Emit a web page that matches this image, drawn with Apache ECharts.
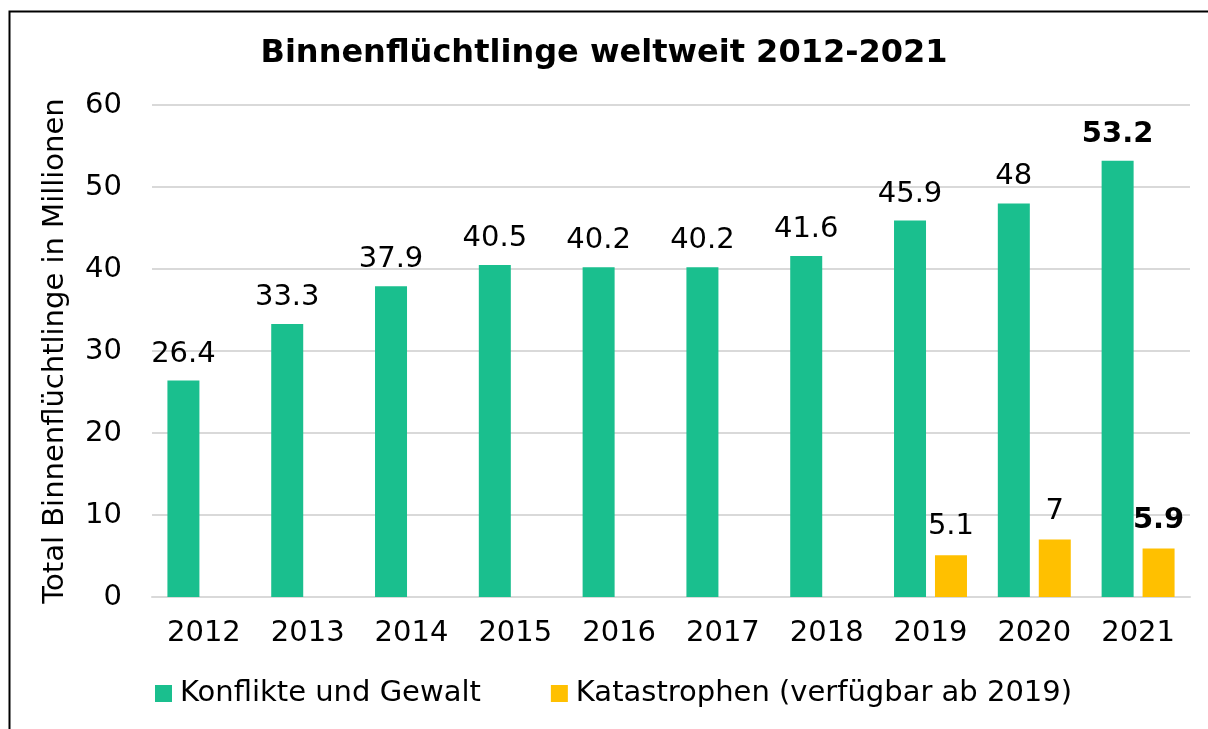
<!DOCTYPE html>
<html><head><meta charset="utf-8">
<script src="https://cdn.jsdelivr.net/npm/echarts@6/dist/echarts.min.js"></script>
<style>html,body{margin:0;padding:0;background:#fff}#c{width:1208px;height:729px}</style>
</head><body><div id="c"></div>
<script>
const years = ['2012','2013','2014','2015','2016','2017','2018','2019','2020','2021'];
const konflikte = [26.4, 33.3, 37.9, 40.5, 40.2, 40.2, 41.6, 45.9, 48, 53.2];
const katastrophen = [null, null, null, null, null, null, null, 5.1, 7, 5.9];
const yTicks = [0, 10, 20, 30, 40, 50, 60];
const FONT = 'DejaVu Sans';
const FS = 29;
function mk(arr){
  return arr.map((v,i)=> v==null ? null : (i===arr.length-1 ? {value:v,label:{fontWeight:'bold'}} : v));
}
const chart = echarts.init(document.getElementById('c'));
chart.setOption({
  animation:false,
  textStyle:{fontFamily:FONT},
  title:{text:'Binnenflüchtlinge weltweit 2012-2021',left:'center',top:33,
    textStyle:{fontFamily:FONT,fontSize:32,fontWeight:'bold',color:'#000'}},
  legend:{bottom:16,left:150,itemWidth:17,itemHeight:17,itemGap:70,icon:'rect',
    textStyle:{fontFamily:FONT,fontSize:FS,color:'#000',padding:[0,0,0,3]}},
  grid:{left:152,right:18,top:105,bottom:132},
  xAxis:{type:'category',data:years,axisTick:{show:false},
    axisLine:{lineStyle:{color:'#D9D9D9',width:2}},
    axisLabel:{fontFamily:FONT,fontSize:FS,color:'#000',margin:22}},
  yAxis:{type:'value',min:yTicks[0],max:yTicks[yTicks.length-1],interval:10,
    name:'Total Binnenflüchtlinge in Millionen',nameLocation:'middle',nameGap:82,nameRotate:90,
    nameTextStyle:{fontFamily:FONT,fontSize:FS,color:'#000'},
    axisLabel:{fontFamily:FONT,fontSize:FS,color:'#000',margin:30},
    splitLine:{lineStyle:{color:'#D9D9D9',width:2}}},
  series:[
    {name:'Konflikte und Gewalt',type:'bar',data:mk(konflikte),barWidth:32,barGap:'28%',
      itemStyle:{color:'#1ABF8E'},
      label:{show:true,position:'top',distance:12,fontFamily:FONT,fontSize:FS,color:'#000'}},
    {name:'Katastrophen (verfügbar ab 2019)',type:'bar',data:mk(katastrophen),barWidth:32,
      itemStyle:{color:'#FFC000'},
      label:{show:true,position:'top',distance:14,fontFamily:FONT,fontSize:FS,color:'#000'}}
  ],
  graphic:[{type:'polyline',shape:{points:[[9.5,729],[9.5,11.5],[1208,11.5]]},
    style:{stroke:'#000',lineWidth:2,fill:null}}]
});
</script></body></html>
